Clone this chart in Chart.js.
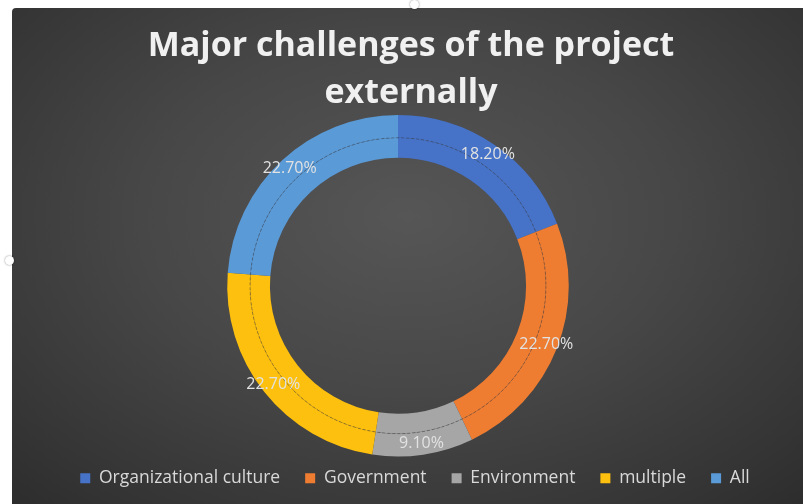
<!DOCTYPE html>
<html>
<head>
<meta charset="utf-8">
<script src="https://cdn.jsdelivr.net/npm/chart.js@4/dist/chart.umd.min.js"></script>
<style>
  html, body { margin: 0; padding: 0; background: #ffffff; }
  body { width: 803px; height: 504px; position: relative; overflow: hidden; }
  #frame {
    position: absolute; left: 12px; top: 8px; width: 791px; height: 496px;
    background: radial-gradient(ellipse 75% 80% at 50% 42%, #565656 0%, #474747 45%, #343434 85%, #2c2c2c 100%);
    border-top-left-radius: 4px;
  }
  .handle {
    position: absolute; width: 9px; height: 9px; border-radius: 50%;
    background: #ffffff; box-shadow: 0 0 2px rgba(0,0,0,0.5);
  }
</style>
</head>
<body>
<div id="frame"><canvas id="myChart" width="791" height="496"></canvas></div>
<div class="handle" style="left:410px; top:0px;"></div>
<div class="handle" style="left:5px; top:256px;"></div>
<script>
const labels = ['Organizational culture', 'Government', 'Environment', 'multiple', 'All'];
const values = [18.2, 22.7, 9.1, 22.7, 22.7];
const valueLabels = ['18.20%', '22.70%', '9.10%', '22.70%', '22.70%'];
const sliceColors = ['#4673C8', '#EE7D32', '#A6A6A6', '#FEC00E', '#5A9AD7'];

// thin dashed line between the two rings + the percentage labels
const ringDecor = {
  id: 'ringDecor',
  afterLayout(chart) {
    // nudge title and legend to where they sit in the original
    chart.titleBlock.left += 13; chart.titleBlock.right += 13;
    chart.legend.left += 17; chart.legend.right += 17;
    chart.legend.top -= 12; chart.legend.bottom -= 12;
  },
  afterDatasetsDraw(chart) {
    const ctx = chart.ctx;
    const outer = chart.getDatasetMeta(0).data;
    const a0 = outer[0];
    ctx.save();
    ctx.beginPath();
    ctx.setLineDash([3, 2]);
    ctx.lineWidth = 0.8;
    ctx.strokeStyle = 'rgba(50,50,60,0.55)';
    ctx.arc(a0.x, a0.y, a0.innerRadius, 0, Math.PI * 2);
    ctx.stroke();
    ctx.setLineDash([]);
    ctx.font = '16px "Open Sans", sans-serif';
    ctx.fillStyle = '#e2e2e2';
    ctx.textAlign = 'center';
    ctx.textBaseline = 'middle';
    outer.forEach((arc, i) => {
      const mid = (arc.startAngle + arc.endAngle) / 2;
      const r = (arc.innerRadius + arc.outerRadius) / 2;
      ctx.fillText(valueLabels[i], arc.x + Math.cos(mid) * r, arc.y + Math.sin(mid) * r);
    });
    ctx.restore();
  }
};

const data = {
  labels: labels,
  datasets: [
    { data: values, backgroundColor: sliceColors, borderWidth: 0, weight: 1.15 },
    { data: values, backgroundColor: sliceColors, borderWidth: 0, weight: 1 }
  ]
};

const config = {
  type: 'doughnut',
  data: data,
  options: {
    responsive: false,
    animation: false,
    cutout: '75%',
    layout: { padding: { left: 0, right: 19, top: 0, bottom: -5 } },
    plugins: {
      title: {
        display: true,
        text: ['Major challenges of the project', 'externally'],
        color: '#f0f0f0',
        font: { family: '"Open Sans", sans-serif', size: 34, weight: 'bold', lineHeight: 1.382 },
        padding: { top: 15, bottom: -2 }
      },
      legend: {
        position: 'bottom',
        labels: {
          color: '#d9d9d9',
          boxWidth: 10,
          boxHeight: 10,
          padding: 25,
          font: { family: '"Open Sans", sans-serif', size: 17.5 }
        }
      },
      tooltip: { enabled: false }
    }
  },
  plugins: [ringDecor]
};

const myChart = new Chart(document.getElementById('myChart'), config);
</script>
</body>
</html>
